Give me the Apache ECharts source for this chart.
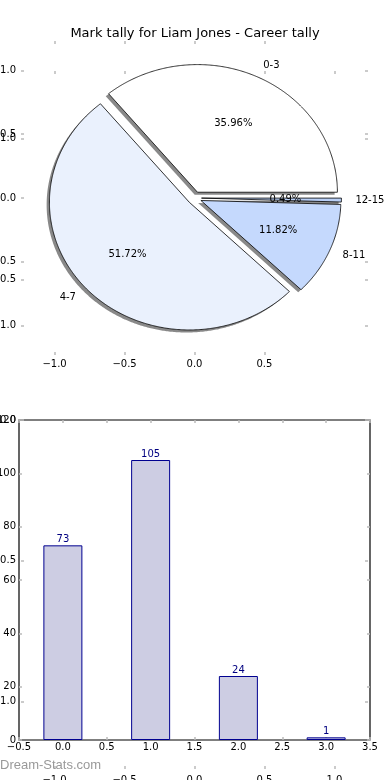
<!DOCTYPE html>
<html>
<head>
<meta charset="utf-8">
<script src="https://cdn.jsdelivr.net/npm/echarts@6/dist/echarts.min.js"></script>
<style>html,body{margin:0;padding:0;background:#fff;}#c{width:390px;height:780px;}</style>
</head>
<body>
<div id="c"></div>
<script>
const titleText = 'Mark tally for Liam Jones - Career tally';
const categories = ['0-3', '4-7', '8-11', '12-15'];
const tallies = [73, 105, 24, 1];
const sliceColors = ['#ffffff', '#eaf1fd', '#c5d9fd', '#b9cff6'];
const pieXTicks = [-1, -0.5, 0, 0.5];
const pieYTicks = [-1, -0.5, 0, 0.5, 1];
const frameTicks = [-1, -0.5, 0, 0.5, 1];
const watermark = 'Dream-Stats.com';

const FONT = '"DejaVu Sans", "Liberation Sans", sans-serif';
const total = tallies.reduce((a, b) => a + b, 0);
const explode = 0.05;
const shadowOff = -0.02;
const fmt1 = v => (v < 0 ? '\u2212' : '') + Math.abs(v).toFixed(1);
const tickStyle = { show: true, inside: true, length: 3, lineStyle: { color: '#bbb', width: 1.5 } };

function renderPie(params, api) {
  const i = params.dataIndex;
  let cum = 0;
  for (let j = 0; j < i; j++) cum += tallies[j];
  const t1 = 360 * cum / total, t2 = 360 * (cum + tallies[i]) / total;
  const tm = (t1 + t2) / 2 * Math.PI / 180;
  const cx = explode * Math.cos(tm), cy = explode * Math.sin(tm);
  const pts = [[cx, cy]];
  const n = Math.max(2, Math.ceil((t2 - t1) * 2));
  for (let k = 0; k <= n; k++) {
    const a = (t1 + (t2 - t1) * k / n) * Math.PI / 180;
    pts.push([cx + Math.cos(a), cy + Math.sin(a)]);
  }
  const px = pts.map(p => api.coord(p));
  const sh = pts.map(p => api.coord([p[0] + shadowOff, p[1] + shadowOff]));
  const lx = cx + 1.1 * Math.cos(tm), ly = cy + 1.1 * Math.sin(tm);
  const lp = api.coord([lx, ly]);
  const pp = api.coord([cx + 0.6 * Math.cos(tm), cy + 0.6 * Math.sin(tm)]);
  return {
    type: 'group',
    children: [
      { type: 'polygon', shape: { points: sh }, style: { fill: 'rgba(40,40,40,0.55)', stroke: null }, z2: 1 },
      { type: 'polygon', shape: { points: px }, style: { fill: sliceColors[i], stroke: '#000', lineWidth: 0.8 }, z2: 10 },
      { type: 'text', x: lp[0], y: lp[1], z2: 20,
        style: { text: categories[i], fill: '#000', font: '10px ' + FONT, align: lx > 0 ? 'left' : 'right', verticalAlign: 'middle' } },
      { type: 'text', x: pp[0], y: pp[1], z2: 20,
        style: { text: (100 * tallies[i] / total).toFixed(2) + '%', fill: '#000', font: '10px ' + FONT, align: 'center', verticalAlign: 'middle' } }
    ]
  };
}

function valAxis(gridIndex, position, min, max, showLabel, extra) {
  const ax = {
    type: 'value', gridIndex, position, min, max,
    splitLine: { show: false },
    axisLine: { show: false, onZero: false },
    axisTick: Object.assign({}, tickStyle),
    axisLabel: { show: showLabel, fontSize: 10, fontFamily: FONT, color: '#000', formatter: fmt1, margin: 4, hideOverlap: false }
  };
  return Object.assign(ax, extra || {});
}
function customTicks(ax, vals) {
  ax.axisTick.customValues = vals;
  ax.axisLabel.customValues = vals;
  return ax;
}

const option = {
  animation: false,
  backgroundColor: '#fff',
  title: { text: titleText, left: 'center', top: 22, textStyle: { fontSize: 13, fontWeight: 'normal', color: '#000', fontFamily: FONT } },
  graphic: [{ type: 'text', left: 0, top: 759, z: 100,
    style: { text: watermark, fill: '#999', font: '13px "Liberation Sans", Arial, sans-serif' } }],
  grid: [
    { left: 21, top: 41, width: 347, height: 314, show: false, outerBoundsMode: 'none', containLabel: false },
    { left: 21, top: 71, width: 347, height: 698, show: false, outerBoundsMode: 'none', containLabel: false },
    { left: 19, top: 420, width: 351, height: 320, show: true, borderColor: '#000', borderWidth: 1.2, outerBoundsMode: 'none', containLabel: false }
  ],
  xAxis: [
    customTicks(valAxis(0, 'bottom', -1.24, 1.24, true), pieXTicks),
    customTicks(valAxis(0, 'top', -1.24, 1.24, false), pieXTicks),
    customTicks(valAxis(1, 'bottom', -1.24, 1.24, true), frameTicks),
    customTicks(valAxis(1, 'top', -1.24, 1.24, false), frameTicks),
    valAxis(2, 'bottom', -0.5, 3.5, true, { interval: 0.5 }),
    valAxis(2, 'top', -0.5, 3.5, false, { interval: 0.5 })
  ],
  yAxis: [
    customTicks(valAxis(0, 'left', -1.23, 1.23, true), pieYTicks),
    customTicks(valAxis(0, 'right', -1.23, 1.23, false), pieYTicks),
    customTicks(valAxis(1, 'left', -1.24, 1.24, true), frameTicks),
    customTicks(valAxis(1, 'right', -1.24, 1.24, false), frameTicks),
    valAxis(2, 'left', 0, 120, true, { interval: 20 }),
    valAxis(2, 'right', 0, 120, false, { interval: 20 })
  ],
  series: [
    {
      type: 'custom', coordinateSystem: 'cartesian2d', xAxisIndex: 0, yAxisIndex: 0,
      renderItem: renderPie, clip: false,
      data: tallies.map((v, i) => [0, 0, v, i]),
      encode: { x: 0, y: 1 }
    },
    {
      type: 'bar', xAxisIndex: 4, yAxisIndex: 4, barWidth: 39,
      data: tallies.map((v, i) => [i, v]),
      itemStyle: { color: '#cdcde3', borderColor: '#000090', borderWidth: 1 },
      label: { show: true, position: 'top', distance: 1, color: '#000080', fontSize: 10, fontFamily: FONT }
    }
  ]
};
option.xAxis[0].axisLabel.margin = 4;
option.xAxis[2].axisLabel.margin = 6;
option.xAxis[4].axisLabel.margin = 2;
option.yAxis[0].axisLabel.margin = 5;
option.yAxis[2].axisLabel.margin = 5;
option.yAxis[4].axisLabel.margin = 3;
option.yAxis[4].axisLabel.formatter = v => String(v);

const chart = echarts.init(document.getElementById('c'), null, { renderer: 'canvas' });
chart.setOption(option);
</script>
</body>
</html>
